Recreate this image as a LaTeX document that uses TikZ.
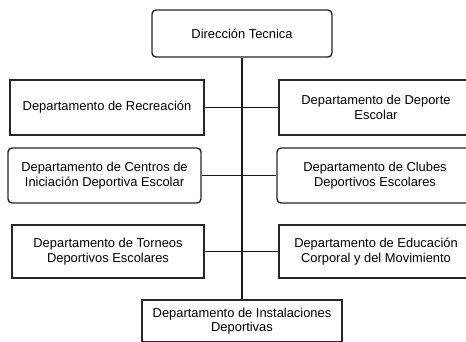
\documentclass[tikz,border=0pt]{standalone}
\usepackage{fontspec}
\setmainfont{Liberation Sans}
\usepackage{tikz}
\usetikzlibrary{positioning}

\begin{document}
\begin{tikzpicture}[
    x=1pt, y=-1pt,
    unit/.style={rectangle, draw=black!85, fill=white, line width=1.4pt, inner sep=0pt, align=center, minimum height=55pt, font=\fontsize{12.9}{14.5}\selectfont},
    roundunit/.style={unit, rounded corners=4pt},
    link/.style={draw=black!90, line width=1.1pt}
]
\useasboundingbox (0,0) rectangle (466,341);

% Top
\node[roundunit, minimum width=180pt, minimum height=47pt] (direccion) at (242,33.5) {Dirección Tecnica};

% Row 1
\node[unit, minimum width=194pt] (recreacion) at (107,107.5) {Departamento de Recreación};
\node[unit, minimum width=194pt] (deporte) at (376,107.5) {Departamento de Deporte\\Escolar};

% Row 2
\node[roundunit, minimum width=193pt] (centros) at (104.5,175.5) {Departamento de Centros de\\Iniciación Deportiva Escolar};
\node[roundunit, minimum width=196pt] (clubes) at (375,175.5) {Departamento de Clubes\\Deportivos Escolares};

% Row 3
\node[unit, minimum width=192pt, minimum height=53pt] (torneos) at (108,251.5) {Departamento de Torneos\\Deportivos Escolares};
\node[unit, minimum width=194pt, minimum height=53pt] (educacion) at (376,251.5) {Departamento de Educación\\Corporal y del Movimiento};

% Bottom
\node[unit, minimum width=200pt, minimum height=42pt] (instalaciones) at (242,321) {Departamento de Instalaciones\\Deportivas};

% Connectors
\draw[link] (direccion) -- (instalaciones);
\draw[link] (recreacion) -- (deporte);
\draw[link] (centros) -- (clubes);
\draw[link] (torneos) -- (educacion);

\end{tikzpicture}
\end{document}
